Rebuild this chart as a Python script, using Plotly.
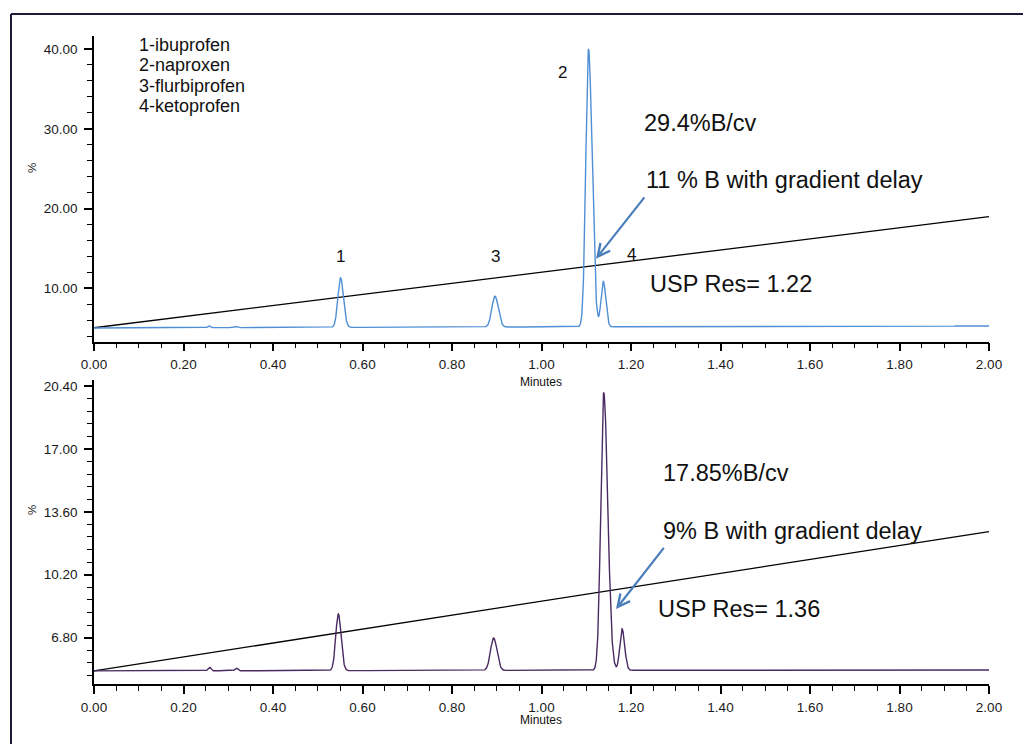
import numpy as np
import plotly.graph_objects as go

# ---- peak tables (retention time in minutes, apex height in %) ----
top_times = [0.257, 0.317, 0.551, 0.896, 1.105, 1.138]
top_apex = [5.30, 5.25, 11.34, 9.03, 40.00, 10.92]
top_sig_left = [0.003, 0.003, 0.0060, 0.0070, 0.0060, 0.0050]
top_sig_right = [0.003, 0.003, 0.0065, 0.0075, 0.0080, 0.0055]
top_baseline = [5.05, 5.30]          # signal level at 0.00 and 2.00 min
top_gradient = [5.07, 19.00]         # gradient trace at 0.00 and 2.00 min

bot_times = [0.258, 0.318, 0.546, 0.893, 1.139, 1.180]
bot_apex = [5.20, 5.15, 8.08, 6.78, 20.06, 7.27]
bot_sig_left = [0.003, 0.003, 0.0058, 0.0070, 0.0065, 0.0050]
bot_sig_right = [0.003, 0.003, 0.0062, 0.0075, 0.0090, 0.0058]
bot_baseline = [5.00, 5.05]
bot_gradient = [5.00, 12.53]

x_range = [0.0, 2.0]
x_ticks = [0.0, 0.2, 0.4, 0.6, 0.8, 1.0, 1.2, 1.4, 1.6, 1.8, 2.0]
top_yticks = [10.0, 20.0, 30.0, 40.0]
bot_yticks = [6.80, 10.20, 13.60, 17.00, 20.40]

compounds = ["1-ibuprofen", "2-naproxen", "3-flurbiprofen", "4-ketoprofen"]

W, H = 1023, 744
FONT = "Liberation Sans, Arial, Helvetica, sans-serif"


def chromatogram(times, apex, sl, sr, base):
    t = np.linspace(x_range[0], x_range[1], 4001)
    b = np.interp(t, x_range, base)
    y = b.copy()
    for t0, a, s1, s2 in zip(times, apex, sl, sr):
        h = a - np.interp(t0, x_range, base)
        s = np.where(t < t0, s1, s2)
        y += h * np.exp(-0.5 * ((t - t0) / s) ** 2)
    return t, y


def px(x):
    return x / W


def py(y):
    return 1 - y / H


fig = go.Figure()

tt, ty = chromatogram(top_times, top_apex, top_sig_left, top_sig_right, top_baseline)
bt, by = chromatogram(bot_times, bot_apex, bot_sig_left, bot_sig_right, bot_baseline)

fig.add_trace(go.Scatter(x=x_range, y=top_gradient, mode="lines",
                         line=dict(color="black", width=1.3),
                         xaxis="x", yaxis="y", hoverinfo="skip"))
fig.add_trace(go.Scatter(x=tt, y=ty, mode="lines",
                         line=dict(color="#4f8fd6", width=1.4),
                         xaxis="x", yaxis="y"))
fig.add_trace(go.Scatter(x=x_range, y=bot_gradient, mode="lines",
                         line=dict(color="black", width=1.3),
                         xaxis="x2", yaxis="y2", hoverinfo="skip"))
fig.add_trace(go.Scatter(x=bt, y=by, mode="lines",
                         line=dict(color="#4a2a63", width=1.4),
                         xaxis="x2", yaxis="y2"))

axis_common = dict(
    showgrid=False, zeroline=False, showline=True, automargin=False,
    linecolor="black", linewidth=1.5,
    ticks="outside", tickcolor="black", tickwidth=1.5, ticklen=8,
    tickfont=dict(family=FONT, size=13.5, color="#1a1a1a"),
)

x_dom = [px(94), px(989)]


def minor(step):
    return dict(ticks="outside", ticklen=5, tickwidth=1.2,
                tickcolor="black", dtick=step, tick0=0)


fig.update_layout(
    width=W, height=H,
    margin=dict(l=0, r=0, t=0, b=0, autoexpand=False),
    paper_bgcolor="white", plot_bgcolor="white",
    showlegend=False,
    xaxis=dict(domain=x_dom, range=x_range, tickvals=x_ticks, tickformat=".2f",
               anchor="y", minor=minor(0.05), ticklabelstandoff=2, **axis_common),
    yaxis=dict(domain=[py(341.5), py(36)], range=[3.35, 41.63], tickvals=top_yticks,
               tickformat=".2f", anchor="x", minor=minor(2), ticklabelstandoff=4,
               **axis_common),
    xaxis2=dict(domain=x_dom, range=x_range, tickvals=x_ticks, tickformat=".2f",
                anchor="y2", minor=minor(0.05), ticklabelstandoff=2, **axis_common),
    yaxis2=dict(domain=[py(684), py(380)], range=[4.29, 20.73], tickvals=bot_yticks,
                tickformat=".2f", anchor="x2", minor=minor(0.68), ticklabelstandoff=4,
                **axis_common),
)

# outer frame (left and top edges)
frame = dict(type="line", xref="paper", yref="paper",
             line=dict(color="#1c1c3a", width=2))
fig.add_shape(x0=px(11), y0=py(14), x1=1, y1=py(14), **frame)
fig.add_shape(x0=px(11), y0=py(14), x1=px(11), y1=0, **frame)

ann = []


def label(text, x, y, size, xanchor="left", angle=0, xref="paper", yref="paper"):
    ann.append(dict(text=text, x=x, y=y, xref=xref, yref=yref, showarrow=False,
                    xanchor=xanchor, yanchor="middle", textangle=angle,
                    font=dict(family=FONT, size=size, color="#111")))


# axis titles
label("%", px(32), py(168), 11.5, xanchor="center", angle=-90)
label("%", px(32), py(510), 11.5, xanchor="center", angle=-90)
label("Minutes", px(541), py(382), 12, xanchor="center")
label("Minutes", px(541), py(720), 12, xanchor="center")

# compound key
for i, name in enumerate(compounds):
    label(name, px(137), py(45 + 20.3 * i), 18)

# peak numbers
label("1", top_times[2], 14.0, 17, xanchor="center", xref="x", yref="y")
label("3", top_times[3] + 0.002, 14.0, 17, xanchor="center", xref="x", yref="y")
label("2", 1.046, 37.1, 17, xanchor="center", xref="x", yref="y")
label("4", 1.200, 14.27, 17, xanchor="center", xref="x", yref="y")

# method notes
label("29.4%B/cv", px(642), py(123), 23.5)
label("11 % B with gradient delay", px(644), py(180), 23.5)
label("USP Res= 1.22", px(648), py(284), 23.5)
label("17.85%B/cv", px(661), py(473), 23.5)
label("9% B with gradient delay", px(661), py(531), 23.5)
label("USP Res= 1.36", px(656), py(609), 23.5)

arrow = dict(text="", showarrow=True, arrowhead=5, arrowsize=1.1, arrowwidth=2.2,
             arrowcolor="#4a7ebb", standoff=0)
ann.append(dict(x=1.1218, y=13.73, ax=1.2326, ay=21.59, xref="x", yref="y",
                axref="x", ayref="y", **arrow))
ann.append(dict(x=1.1665, y=8.34, ax=1.276, ay=11.73, xref="x2", yref="y2",
                axref="x2", ayref="y2", **arrow))

fig.update_layout(annotations=ann)

fig.write_html("out.html")
